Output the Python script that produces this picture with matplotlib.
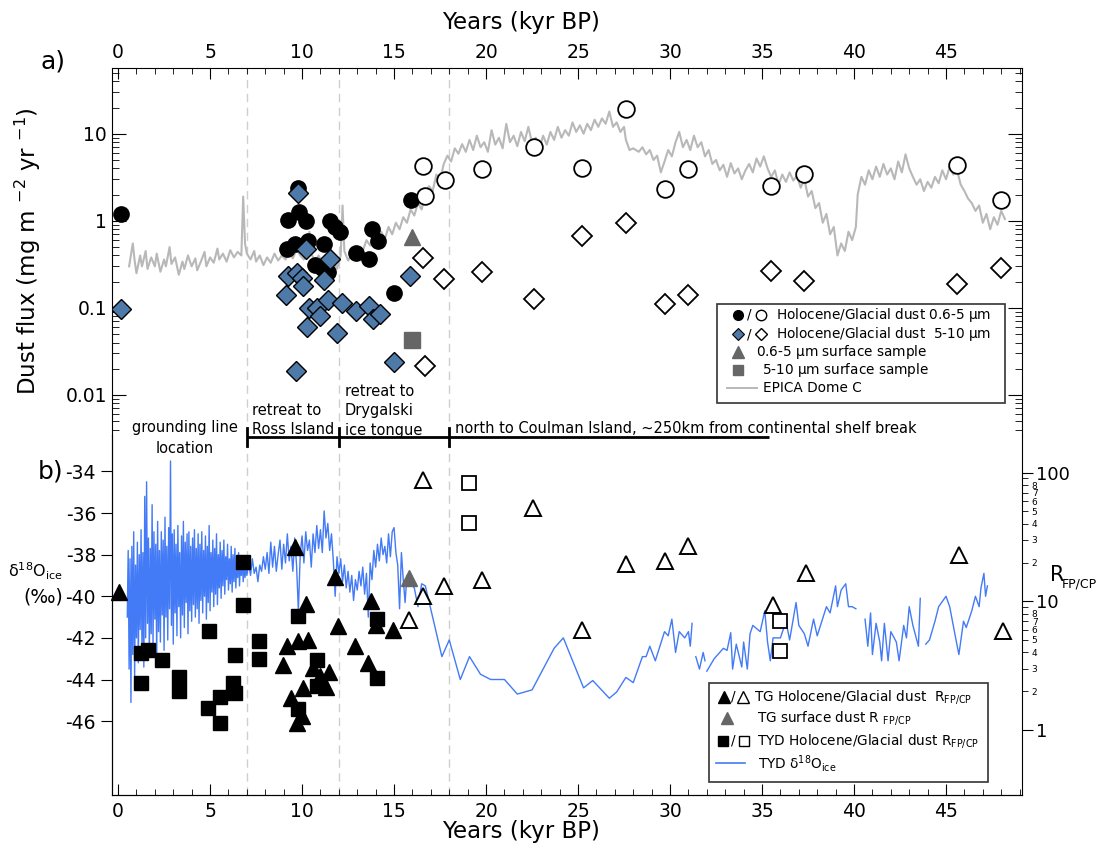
import matplotlib.pyplot as plt
import numpy as np
from matplotlib.lines import Line2D
from matplotlib.patches import Rectangle
from matplotlib.ticker import FixedLocator, FixedFormatter, LogLocator, NullFormatter, FuncFormatter, MultipleLocator
from matplotlib.transforms import blended_transform_factory

plt.rcParams['font.family'] = ['DejaVu Sans']
plt.rcParams['mathtext.default'] = 'regular'
plt.rcParams['axes.unicode_minus'] = False

# ---- panel a: dust flux (mg m-2 yr-1) ----
holo_fine_t = [0.15, 9.77, 9.26, 9.85, 10.2, 9.17, 9.62, 10.34, 11.2, 11.52, 11.8, 12.07,
               10.7, 11.07, 11.43, 12.93, 13.79, 13.66, 14.11, 15.0, 15.9]
holo_fine = [1.19, 2.4, 1.03, 1.25, 1.0, 0.47, 0.54, 0.59, 0.54, 1.0, 0.86, 0.75,
             0.31, 0.29, 0.26, 0.43, 0.80, 0.36, 0.58, 0.15, 1.74]

holo_coarse_t = [0.15, 9.77, 10.2, 9.26, 9.71, 9.98, 10.07, 9.13, 11.2, 11.52, 10.4, 10.8,
                 11.0, 11.43, 12.15, 10.29, 11.88, 12.93, 13.66, 13.84, 14.24, 9.67, 15.0, 15.87]
holo_coarse = [0.097, 2.08, 0.48, 0.23, 0.25, 0.22, 0.18, 0.14, 0.21, 0.36, 0.099, 0.099,
               0.081, 0.124, 0.113, 0.061, 0.052, 0.093, 0.105, 0.074, 0.085, 0.019, 0.024, 0.233]

glac_fine_t = [16.6, 16.68, 17.77, 19.76, 22.6, 25.2, 27.6, 29.7, 31.0, 35.5, 37.3, 45.6, 48.0]
glac_fine = [4.3, 1.94, 2.96, 3.96, 7.0, 4.0, 19.2, 2.35, 3.93, 2.48, 3.47, 4.43, 1.74]

glac_coarse_t = [16.6, 17.7, 19.8, 22.6, 25.2, 27.6, 29.7, 31.0, 16.7, 35.5, 37.3, 45.6, 48.0]
glac_coarse = [0.37, 0.215, 0.26, 0.127, 0.67, 0.95, 0.11, 0.14, 0.0215, 0.266, 0.204, 0.187, 0.29]

surf_fine_t, surf_fine = [15.96], [0.66]
surf_coarse_t, surf_coarse = [15.96], [0.043]

epica_t = [0.6, 0.8, 0.9, 1.0, 1.2, 1.3, 1.5, 1.6, 1.8, 2.0, 2.1, 2.3, 2.5, 2.6, 2.8, 2.9,
           3.1, 3.3, 3.5, 3.6, 3.8, 4.0, 4.2, 4.3, 4.5, 4.7, 4.8, 5.0, 5.2, 5.4, 5.5, 5.7,
           5.9, 6.1, 6.3, 6.5, 6.7, 6.8, 6.9, 7.0, 7.2, 7.4, 7.5, 7.7, 7.9, 8.1, 8.3, 8.5,
           8.7, 8.9, 9.1, 9.3, 9.5, 9.7, 9.9, 10.1, 10.3, 10.4, 10.5, 10.7, 10.9, 11.1, 11.3,
           11.5, 11.7, 11.9, 12.1, 12.2, 12.3, 12.5, 12.7, 12.9, 13.1, 13.3, 13.5, 13.7, 13.9,
           14.1, 14.3, 14.5, 14.7, 14.9, 15.1, 15.3, 15.5, 15.7, 15.9, 16.1, 16.3, 16.5, 16.7,
           16.9, 17.1, 17.3, 17.5, 17.7, 17.9, 18.1, 18.3, 18.5, 18.7, 18.9, 19.1, 19.3, 19.5,
           19.7, 19.9, 20.1, 20.3, 20.5, 20.7, 20.9, 21.1, 21.3, 21.5, 21.7, 21.9, 22.1, 22.3,
           22.5, 22.7, 22.9, 23.1, 23.3, 23.5, 23.7, 23.9, 24.1, 24.3, 24.5, 24.7, 24.9, 25.1,
           25.3, 25.5, 25.7, 25.9, 26.1, 26.3, 26.5, 26.7, 26.9, 27.1, 27.3, 27.5, 27.6, 27.8,
           28.0, 28.3, 28.5, 28.7, 28.9, 29.1, 29.3, 29.5, 29.7, 29.9, 30.1, 30.3, 30.5, 30.7,
           30.9, 31.1, 31.3, 31.5, 31.7, 31.9, 32.1, 32.3, 32.5, 32.7, 32.9, 33.1, 33.3, 33.5,
           33.7, 33.9, 34.1, 34.3, 34.5, 34.7, 34.9, 35.1, 35.3, 35.5, 35.7, 35.9, 36.1, 36.3,
           36.5, 36.7, 36.9, 37.1, 37.3, 37.5, 37.7, 37.9, 38.1, 38.3, 38.5, 38.7, 38.9, 39.1,
           39.3, 39.5, 39.7, 39.9, 40.1, 40.2, 40.4, 40.6, 40.8, 41.0, 41.2, 41.4, 41.6, 41.8,
           42.0, 42.2, 42.4, 42.6, 42.8, 43.0, 43.2, 43.4, 43.6, 43.8, 44.0, 44.2, 44.4, 44.6,
           44.8, 45.0, 45.2, 45.4, 45.6, 45.8, 46.0, 46.2, 46.4, 46.6, 46.8, 47.0, 47.2, 47.4,
           47.6, 47.8, 48.0, 48.2]
epica_flux = [0.30, 0.55, 0.35, 0.25, 0.40, 0.30, 0.45, 0.28, 0.38, 0.30, 0.42, 0.26, 0.36, 0.30, 0.50, 0.32,
              0.38, 0.24, 0.34, 0.28, 0.40, 0.30, 0.37, 0.27, 0.34, 0.44, 0.30, 0.38, 0.33, 0.48, 0.36, 0.42,
              0.34, 0.46, 0.38, 0.44, 0.40, 1.90, 0.55, 0.42, 0.36, 0.45, 0.34, 0.40, 0.31, 0.38, 0.33, 0.42,
              0.35, 0.40, 0.36, 0.44, 0.37, 0.47, 0.40, 0.36, 0.45, 0.75, 0.42, 0.34, 0.40, 0.33, 0.38,
              0.30, 0.36, 0.28, 0.40, 1.50, 0.45, 0.35, 0.42, 0.38, 0.50, 0.45, 0.60, 0.52, 0.70,
              0.58, 0.75, 0.62, 0.85, 0.70, 0.95, 0.80, 1.10, 0.95, 1.35, 1.15, 1.60, 1.35, 2.10,
              2.50, 2.20, 3.40, 2.90, 4.50, 5.60, 4.80, 6.80, 5.90, 7.60, 6.20, 8.50, 6.50, 9.50,
              7.00, 8.00, 6.20, 11.0, 7.50, 9.00, 6.80, 13.0, 8.00, 9.50, 7.20, 10.5, 8.20, 12.0,
              7.80, 9.00, 6.80, 9.50, 7.50, 10.5, 8.50, 12.0, 9.00, 11.0, 9.50, 13.5, 10.5, 12.5,
              10.0, 13.0, 11.0, 14.5, 12.0, 15.0, 13.0, 18.0, 12.0, 13.5, 10.5, 12.0, 8.50, 6.50,
              6.80, 6.20, 7.00, 5.80, 6.50, 5.00, 5.60, 3.60, 4.80, 6.50, 5.50, 8.00, 10.5, 7.00,
              8.50, 6.50, 9.50, 7.00, 8.00, 5.50, 6.50, 4.50, 5.00, 3.80, 4.40, 3.20, 4.60, 3.50,
              4.00, 3.00, 3.80, 4.50, 3.60, 5.20, 4.20, 5.50, 4.00, 3.20, 3.80, 2.60, 3.40, 2.80,
              3.60, 2.90, 3.30, 2.40, 3.00, 1.90, 2.20, 1.40, 1.60, 0.95, 1.20, 0.70, 0.85, 0.40,
              0.55, 0.45, 0.75, 0.60, 0.85, 2.00, 3.20, 2.60, 3.80, 3.00, 4.20, 3.20, 4.50, 3.40,
              4.00, 3.00, 4.80, 3.60, 5.80, 4.00, 3.20, 2.60, 3.00, 2.20, 2.80, 2.40, 3.20, 2.70,
              3.80, 3.00, 4.20, 3.40, 3.80, 2.60, 2.20, 1.80, 1.60, 1.30, 1.50, 0.95, 1.20, 0.80,
              1.10, 0.90, 1.30, 1.05]

# ---- panel b: R_FP/CP ratios and TYD d18O ----
tg_holo_t = [0.07, 9.62, 11.79, 10.22, 11.97, 13.73, 14.0, 14.96, 12.88, 13.6, 9.16, 9.8,
             10.34, 8.99, 10.58, 11.49, 10.98, 10.07, 11.3, 9.38, 9.98, 9.71]
tg_holo = [11.7, 26.6, 15.4, 9.55, 6.37, 10.1, 6.58, 6.0, 4.46, 3.31, 4.46, 4.88,
           4.97, 3.21, 3.03, 2.8, 2.61, 2.12, 2.16, 1.77, 1.28, 1.13]
tg_surf_t, tg_surf = [15.83], [15.1]
tg_glac_t = [16.56, 16.56, 15.83, 17.72, 19.76, 22.57, 25.2, 27.6, 29.7, 31.0, 35.6, 37.4, 45.7, 48.1]
tg_glac = [87.8, 11.0, 7.18, 13.2, 14.7, 52.9, 5.93, 19.5, 20.7, 26.9, 9.4, 16.6, 23.0, 5.83]

tyd_holo_t = [6.78, 6.78, 1.23, 1.65, 1.23, 2.37, 3.32, 3.32, 4.96, 6.36, 6.23, 6.36,
              5.54, 4.91, 5.54, 7.66, 7.66, 9.76, 10.83, 10.83, 9.76, 14.1, 14.1]
tyd_holo = [20.3, 9.27, 3.96, 4.2, 2.32, 3.52, 2.56, 2.0, 5.83, 3.85, 2.32, 1.94,
            1.80, 1.48, 1.13, 4.88, 3.56, 7.7, 3.47, 2.18, 1.46, 7.3, 2.54]
tyd_glac_t = [19.1, 19.1, 36.0, 36.0]
tyd_glac = [83.6, 40.5, 7.06, 4.07]

d18o_t = [0.50, 0.55, 0.60, 0.65, 0.70, 0.75, 0.80, 0.85, 0.90, 0.95,
          1.00, 1.05, 1.10, 1.15, 1.20, 1.25, 1.30, 1.35, 1.40, 1.45,
          1.50, 1.55, 1.60, 1.65, 1.70, 1.75, 1.80, 1.85, 1.90, 1.95,
          2.00, 2.05, 2.10, 2.15, 2.20, 2.25, 2.30, 2.35, 2.40, 2.45,
          2.50, 2.55, 2.60, 2.65, 2.70, 2.75, 2.80, 2.85, 2.90, 2.95,
          3.00, 3.05, 3.10, 3.15, 3.20, 3.25, 3.30, 3.35, 3.40, 3.45,
          3.50, 3.55, 3.60, 3.65, 3.70, 3.75, 3.80, 3.85, 3.90, 3.95,
          4.00, 4.05, 4.10, 4.15, 4.20, 4.25, 4.30, 4.35, 4.40, 4.45,
          4.50, 4.55, 4.60, 4.65, 4.70, 4.75, 4.80, 4.85, 4.90, 4.95,
          5.00, 5.05, 5.10, 5.15, 5.20, 5.25, 5.30, 5.35, 5.40, 5.45,
          5.50, 5.55, 5.60, 5.65, 5.70, 5.75, 5.80, 5.85, 5.90, 5.95,
          6.00, 6.05, 6.10, 6.15, 6.20, 6.25, 6.30, 6.35, 6.40, 6.45,
          6.50, 6.55, 6.60, 6.65, 6.70, 6.75, 6.80, 6.85, 6.90, 6.95,
          7.00, 7.1, 7.2, 7.3, 7.4, 7.5, 7.6, 7.7, 7.8, 7.9,
          8.0, 8.1, 8.2, 8.3, 8.4, 8.5, 8.6, 8.7, 8.8, 8.9,
          9.0, 9.1, 9.2, 9.3, 9.4, 9.5, 9.6, 9.7, 9.8, 9.9,
          10.0, 10.1, 10.2, 10.3, 10.4, 10.5, 10.6, 10.7, 10.8, 10.9,
          11.0, 11.1, 11.2, 11.3, 11.4, 11.5, 11.6, 11.7, 11.8, 11.9,
          12.0, 12.1, 12.2, 12.3, 12.4, 12.5, 12.6, 12.7, 12.8, 12.9,
          13.0, 13.1, 13.2, 13.3, 13.4, 13.5, 13.6, 13.7, 13.8, 13.9,
          14.0, 14.1, 14.2, 14.3, 14.4, 14.5, 14.6, 14.7, 14.8, 14.9,
          15.0, 15.1, 15.2, 15.3, 15.4, 15.5, 15.6, 15.7, 15.9, 16.1,
          16.3, 16.5, 16.7, 17.6, 18.0, 18.6, 19.1, 19.7, 20.25, 21.0,
          21.7, 22.5, 23.7, 24.2, 25.3, 25.8, 26.7, 27.1, 27.6, 28.0,
          28.5, 28.7, 28.9, 29.2, 29.7, 29.9, 30.1, 30.3, 30.5, 30.8,
          31.0, 31.1, 31.2, 31.3, 31.4, 31.6, 31.8, 31.9, 31.95, 32.0,
          32.4, 32.9, 33.1, 33.3, 33.4, 33.6, 33.9, 34.0, 34.2, 34.35,
          34.5, 34.9, 35.15, 35.3, 35.45, 35.6, 36.0, 36.3, 36.5, 36.85,
          37.0, 37.3, 37.5, 37.8, 38.0, 38.5, 38.7, 39.0, 39.1, 39.3,
          39.55, 39.7, 39.9, 40.1, 40.3, 40.6, 40.75, 40.9, 41.0, 41.2,
          41.4, 41.5, 41.65, 41.85, 42.0, 42.3, 42.45, 42.7, 42.85, 43.0,
          43.2, 43.5, 43.6, 43.75, 43.9, 44.1, 44.4, 44.6, 45.0, 45.2,
          45.5, 45.7, 45.95, 46.1, 46.4, 46.6, 46.8, 46.9, 47.06, 47.15,
          47.25]
d18o = [-41.0, -37.8, -43.5, -38.2, -45.1, -37.6, -42.8, -36.9, -43.9, -38.5,
        -42.0, -37.4, -43.2, -38.0, -41.6, -36.8, -42.7, -37.9, -43.4, -35.2,
        -42.0, -34.5, -41.3, -37.2, -42.9, -37.7, -41.8, -35.6, -42.4, -36.9,
        -41.1, -37.5, -43.1, -36.4, -41.7, -37.8, -42.2, -36.9, -40.9, -37.3,
        -42.6, -36.2, -41.0, -37.6, -42.1, -36.7, -40.6, -33.5, -41.4, -37.0,
        -42.3, -36.8, -40.8, -37.5, -41.9, -36.6, -40.5, -37.9, -42.0, -37.1,
        -40.9, -36.4, -41.5, -37.4, -40.3, -37.0, -41.8, -36.9, -40.7, -37.6,
        -41.2, -37.2, -40.4, -36.8, -41.0, -37.7, -40.6, -37.0, -41.3, -37.5,
        -40.2, -36.9, -40.8, -37.8, -40.0, -37.1, -41.1, -37.6, -40.3, -36.6,
        -40.7, -37.9, -39.8, -37.3, -40.5, -37.7, -39.9, -37.0, -40.4, -38.0,
        -39.6, -37.4, -40.1, -37.8, -39.5, -37.3, -39.9, -38.1, -39.2, -37.5,
        -39.7, -38.2, -39.4, -37.6, -39.8, -38.0, -39.3, -37.7, -39.6, -38.3,
        -39.1, -37.9, -39.5, -38.4, -39.0, -38.1, -39.3, -38.5, -39.1, -38.6,
        -39.0, -38.4, -39.0, -38.2, -38.9, -38.6, -39.3, -38.5, -38.8, -38.1,
        -38.7, -37.9, -38.9, -37.4, -38.6, -37.6, -38.8, -38.0, -37.3, -38.7,
        -37.5, -38.4, -37.0, -38.3, -37.6, -38.8, -37.2, -38.5, -40.7, -38.0,
        -37.1, -38.4, -36.9, -37.8, -37.3, -38.6, -37.0, -37.9, -36.6, -37.7,
        -36.8, -37.9, -35.9, -37.2, -36.5, -37.8, -37.0, -38.3, -40.0, -38.1,
        -38.9, -38.2, -39.3, -38.5, -39.6, -38.8, -39.8, -39.0, -40.2, -39.2,
        -39.7, -38.8, -39.5, -38.6, -39.9, -38.9, -41.0, -38.4, -39.2, -37.8,
        -38.6, -37.5, -38.3, -37.2, -38.0, -37.6, -38.4, -37.0, -38.1, -36.9,
        -36.7, -37.9, -38.5, -40.6, -37.9, -39.2, -40.3, -39.0, -39.4, -39.6,
        -40.5, -39.4, -39.5, -42.9, -42.1, -44.0, -42.9, -43.75, -44.0, -44.0,
        -44.7, -44.5, -42.5, -42.0, -44.4, -44.05, -44.9, -44.6, -43.9, -44.15,
        -42.9, -42.9, -42.4, -43.1, -41.7, -41.9, -41.1, -42.7, -41.7, -42.0,
        -41.7, -42.4, -41.3, np.nan, -42.9, -43.5, -42.7, -43.1, np.nan, -43.6,
        -43.0, -42.5, -42.6, -41.75, -43.5, -42.3, -43.4, -42.2, -43.5, -41.8,
        -41.4, -41.7, -40.7, -42.2, -43.1, -42.0, -42.0, -41.2, -42.1, -40.3,
        -41.4, -41.8, -42.4, -41.1, -41.9, -40.5, -40.8, -39.5, -40.5, -39.7,
        -39.4, -40.5, -40.5, -40.6, np.nan, -41.1, -42.4, -40.8, -42.8, -41.3,
        -42.2, -43.1, -41.3, -43.1, -41.7, -42.2, -43.1, -41.4, -42.0, -40.5,
        -41.4, -42.4, -40.1, np.nan, -42.3, -42.1, -41.2, -40.5, -40.0, -40.5,
        -41.9, -42.8, -41.2, -41.5, -40.7, -40.0, -40.5, -39.6, -38.9, -40.0,
        -39.5]

phase_bounds = [7, 12, 18]
bar_end = 35.4

W, H = 1111, 848
fig = plt.figure(figsize=(W / 100, H / 100), dpi=100)


def fx(x):
    return x / W


def fy(y):
    return 1 - y / H


L, R = 112, 1022
TOP, MID, BOT = 68, 435, 795
ax_a = fig.add_axes([fx(L), fy(MID), fx(R) - fx(L), fy(TOP) - fy(MID)])
ax_b = fig.add_axes([fx(L), fy(BOT), fx(R) - fx(L), fy(MID) - fy(BOT)])
ax_r = ax_b.twinx()

xlim = (-0.33, 49.13)
steel = '#4e7aaa'
grey_mk = '#666666'
blue_ln = '#437af6'
dash_col = '#cfcfcf'
tick_fs = 13.5
lab_fs = 16.5

# ---------- panel a ----------
ax_a.set_yscale('log')
ax_a.set_xlim(*xlim)
ax_a.set_ylim(0.00347, 56.9)
for t in phase_bounds:
    ax_a.axvline(t, color=dash_col, lw=1, ls=(0, (6, 4)), zorder=0)
ax_a.plot(epica_t, epica_flux, color='#b8b8b8', lw=1.5, zorder=1)
ax_a.plot(holo_fine_t, holo_fine, ls='none', marker='o', ms=11, mfc='black', mec='black', zorder=3)
ax_a.plot(glac_fine_t, glac_fine, ls='none', marker='o', ms=12, mfc='white', mec='black', mew=1.3, zorder=3)
ax_a.plot(holo_coarse_t, holo_coarse, ls='none', marker='D', ms=10, mfc=steel, mec='black', mew=1.0, zorder=4)
ax_a.plot(glac_coarse_t, glac_coarse, ls='none', marker='D', ms=10, mfc='white', mec='black', mew=1.3, zorder=4)
ax_a.plot(surf_fine_t, surf_fine, ls='none', marker='^', ms=11, mfc=grey_mk, mec=grey_mk, zorder=4)
ax_a.plot(surf_coarse_t, surf_coarse, ls='none', marker='s', ms=11, mfc=grey_mk, mec=grey_mk, zorder=4)

ax_a.spines['bottom'].set_visible(False)
ax_a.xaxis.set_ticks_position('top')
ax_a.xaxis.set_label_position('top')
ax_a.xaxis.set_major_locator(MultipleLocator(5))
ax_a.xaxis.set_minor_locator(MultipleLocator(1))
ax_a.tick_params(axis='x', which='both', direction='in', top=True, bottom=False,
                 labeltop=True, labelbottom=False, labelsize=tick_fs, pad=4)
ax_a.tick_params(axis='x', which='major', length=8)
ax_a.tick_params(axis='x', which='minor', length=4)
ax_a.yaxis.set_major_locator(FixedLocator([0.01, 0.1, 1, 10]))
ax_a.yaxis.set_major_formatter(FixedFormatter(['0.01', '0.1', '1', '10']))
ax_a.yaxis.set_minor_locator(LogLocator(base=10, subs=np.arange(2, 10)))
ax_a.yaxis.set_minor_formatter(NullFormatter())
ax_a.tick_params(axis='y', which='both', direction='in', left=True, right=True, labelsize=tick_fs)
ax_a.tick_params(axis='y', which='major', length=10)
ax_a.tick_params(axis='y', which='minor', length=5)
ax_a.set_xlabel('Years (kyr BP)', fontsize=lab_fs)
ax_a.xaxis.set_label_coords((521 - L) / (R - L), (MID - 29) / (MID - TOP))
ax_a.set_ylabel(r'Dust flux (mg m $^{-2}$ yr $^{-1}$)', fontsize=lab_fs)
ax_a.yaxis.set_label_coords((43 - L) / (R - L), 0.5)

# ---------- panel b ----------
ax_b.set_xlim(*xlim)
ax_b.set_ylim(-49.55, -32.25)
for t in phase_bounds:
    ax_b.axvline(t, color=dash_col, lw=1, ls=(0, (6, 4)), zorder=0)
ax_b.plot(d18o_t, d18o, color=blue_ln, lw=1.0, zorder=1)
ax_b.spines['top'].set_visible(False)
ax_b.spines['right'].set_visible(False)
ax_b.yaxis.set_major_locator(FixedLocator([-34, -36, -38, -40, -42, -44, -46]))
ax_b.tick_params(axis='y', which='major', direction='out', length=8, labelsize=tick_fs)
ax_b.xaxis.set_major_locator(MultipleLocator(5))
ax_b.xaxis.set_minor_locator(MultipleLocator(1))
ax_b.tick_params(axis='x', which='both', direction='in', labelsize=tick_fs, pad=5)
ax_b.tick_params(axis='x', which='major', length=8)
ax_b.tick_params(axis='x', which='minor', length=4)
ax_b.set_xlabel('Years (kyr BP)', fontsize=lab_fs)
ax_b.xaxis.set_label_coords((521 - L) / (R - L), -(820 - BOT) / (BOT - MID))

ax_r.set_yscale('log')
ax_r.set_ylim(0.312, 196)
ax_r.spines['top'].set_visible(False)
ax_r.plot(tg_holo_t, tg_holo, ls='none', marker='^', ms=11, mfc='black', mec='black', zorder=3, clip_on=False)
ax_r.plot(tg_glac_t, tg_glac, ls='none', marker='^', ms=11, mfc='white', mec='black', mew=1.4, zorder=3)
ax_r.plot(tg_surf_t, tg_surf, ls='none', marker='^', ms=11, mfc=grey_mk, mec=grey_mk, zorder=3)
ax_r.plot(tyd_holo_t, tyd_holo, ls='none', marker='s', ms=10.5, mfc='black', mec='black', zorder=3)
ax_r.plot(tyd_glac_t, tyd_glac, ls='none', marker='s', ms=10.5, mfc='white', mec='black', mew=1.3, zorder=3)
ax_r.yaxis.set_major_locator(FixedLocator([1, 10, 100]))
ax_r.yaxis.set_major_formatter(FixedFormatter(['1', '10', '100']))
ax_r.yaxis.set_minor_locator(FixedLocator([2, 3, 4, 5, 6, 7, 8, 9, 20, 30, 40, 50, 60, 70, 80, 90]))


def minor_label(v, pos):
    d = int(round(v / 10 ** np.floor(np.log10(v) + 1e-9)))
    return str(d) if 2 <= d <= 8 else ''


ax_r.yaxis.set_minor_formatter(FuncFormatter(minor_label))
ax_r.tick_params(axis='y', which='major', direction='out', length=8, labelsize=13, pad=2)
ax_r.tick_params(axis='y', which='minor', direction='out', length=4, labelsize=6.5, pad=3)

# phase bar between the panels
trans = blended_transform_factory(ax_b.transData, ax_b.transAxes)
bar_y = (BOT - 437) / (BOT - MID)
ax_b.plot([phase_bounds[0], bar_end], [bar_y, bar_y], transform=trans, color='black', lw=2,
          clip_on=False, solid_capstyle='butt')
for t in phase_bounds:
    ax_b.plot([t, t], [(BOT - 446) / (BOT - MID), (BOT - 428) / (BOT - MID)], transform=trans,
              color='black', lw=2, clip_on=False)

tfs = 10.5
fig.text(fx(185), fy(438), 'grounding line\nlocation', ha='center', va='center', fontsize=tfs,
         linespacing=1.45)
fig.text(fx(252), fy(420), 'retreat to\nRoss Island', ha='left', va='center', fontsize=tfs,
         linespacing=1.35)
fig.text(fx(345), fy(411), 'retreat to\nDrygalski\nice tongue', ha='left', va='center', fontsize=tfs,
         linespacing=1.35)
fig.text(fx(455), fy(428), 'north to Coulman Island, ~250km from continental shelf break',
         ha='left', va='center', fontsize=tfs)

fig.text(fx(40), fy(62), 'a)', fontsize=18, ha='left', va='center')
fig.text(fx(63), fy(471), 'b)', fontsize=18, ha='right', va='center')
fig.text(fx(63), fy(571), r'δ$^{18}$O$_{ice}$', fontsize=11.5, ha='right', va='center')
fig.text(fx(63), fy(597), '(‰)', fontsize=13.5, ha='right', va='center')
# right-hand axis title, R with a smaller subscript
fig.text(fx(1050), fy(575), 'R', fontsize=15, ha='left', va='center')
fig.text(fx(1062), fy(584), 'FP/CP', fontsize=9, ha='left', va='center')


# ---------- legends ----------
def mark(x, y, **kw):
    fig.add_artist(Line2D([fx(x)], [fy(y)], transform=fig.transFigure, ls='none', **kw))


def seg(x0, x1, y, **kw):
    fig.add_artist(Line2D([fx(x0), fx(x1)], [fy(y), fy(y)], transform=fig.transFigure, **kw))


def box(x0, y0, x1, y1):
    fig.add_artist(Rectangle((fx(x0), fy(y1)), fx(x1) - fx(x0), fy(y0) - fy(y1),
                             transform=fig.transFigure, fill=True, facecolor='white',
                             edgecolor='#333333', lw=1.2, zorder=5))


lfs = 9.8
box(717, 304, 1005, 403)
mark(738, 315, marker='o', ms=7, mfc='black', mec='black', zorder=6)
fig.text(fx(749), fy(315), '/', fontsize=lfs, ha='center', va='center', zorder=6)
mark(761, 315, marker='o', ms=7.5, mfc='white', mec='black', mew=1, zorder=6)
fig.text(fx(776), fy(315), r'Holocene/Glacial dust 0.6-5 $\mu$m', fontsize=lfs, va='center', zorder=6)
mark(738, 334, marker='D', ms=6.5, mfc=steel, mec='black', mew=0.8, zorder=6)
fig.text(fx(749), fy(334), '/', fontsize=lfs, ha='center', va='center', zorder=6)
mark(761, 334, marker='D', ms=6.5, mfc='white', mec='black', mew=1, zorder=6)
fig.text(fx(776), fy(334), r'Holocene/Glacial dust  5-10 $\mu$m', fontsize=lfs, va='center', zorder=6)
mark(738, 352, marker='^', ms=8, mfc=grey_mk, mec=grey_mk, zorder=6)
fig.text(fx(756), fy(352), r'0.6-5 $\mu$m surface sample', fontsize=lfs, va='center', zorder=6)
mark(738, 370, marker='s', ms=7, mfc=grey_mk, mec=grey_mk, zorder=6)
fig.text(fx(762), fy(370), r'5-10 $\mu$m surface sample', fontsize=lfs, va='center', zorder=6)
seg(727, 757, 388, color='#b8b8b8', lw=1.4, zorder=6)
fig.text(fx(763), fy(388), 'EPICA Dome C', fontsize=lfs, va='center', zorder=6)

box(709, 683, 988, 782)
mark(724, 697, marker='^', ms=8.5, mfc='black', mec='black', zorder=6)
fig.text(fx(733), fy(697), '/', fontsize=lfs, ha='center', va='center', zorder=6)
mark(743, 697, marker='^', ms=8.5, mfc='white', mec='black', mew=1, zorder=6)
fig.text(fx(754), fy(697), r'TG Holocene/Glacial dust  R$_{FP/CP}$', fontsize=lfs, va='center', zorder=6)
mark(727, 718, marker='^', ms=8.5, mfc=grey_mk, mec=grey_mk, zorder=6)
fig.text(fx(757), fy(718), r'TG surface dust R $_{FP/CP}$', fontsize=lfs, va='center', zorder=6)
mark(723, 741, marker='s', ms=7.5, mfc='black', mec='black', zorder=6)
fig.text(fx(733), fy(741), '/', fontsize=lfs, ha='center', va='center', zorder=6)
mark(744, 741, marker='s', ms=7.5, mfc='white', mec='black', mew=1, zorder=6)
fig.text(fx(757), fy(741), r'TYD Holocene/Glacial dust R$_{FP/CP}$', fontsize=lfs, va='center', zorder=6)
seg(716, 745, 763, color=blue_ln, lw=1.2, zorder=6)
fig.text(fx(758), fy(763), r'TYD δ$^{18}$O$_{ice}$', fontsize=lfs, va='center', zorder=6)

fig.savefig('out.png', dpi=100)
